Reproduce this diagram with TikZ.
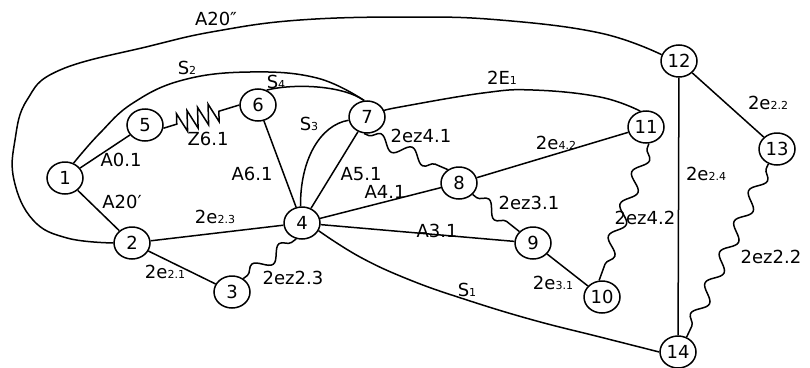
\documentclass[tikz,border=0pt]{standalone}
\usepackage{fontspec}
\setmainfont{DejaVu Sans}
\usetikzlibrary{shapes.geometric,decorations.pathmorphing}
\newcommand\sbx[1]{{\fontsize{11}{11}\selectfont #1}}
\begin{document}
\begin{tikzpicture}[x=1pt,y=-1pt,
  vtx/.style={draw, ellipse, minimum width=36pt, minimum height=32pt, inner sep=0pt, line width=1.5pt, font=\fontsize{18}{18}\selectfont},
  edge/.style={line width=1.5pt},
  wavy/.style={line width=1.5pt, decorate, decoration={snake, amplitude=6.5pt, segment length=34pt, pre length=5pt, post length=5pt}},
  lbl/.style={font=\fontsize{18}{18}\selectfont, inner sep=1pt}]
\useasboundingbox (0,0) rectangle (810,367);

% vertices
\node[vtx] (n1)  at (65,178)  {1};
\node[vtx] (n2)  at (132,243) {2};
\node[vtx] (n3)  at (232,292) {3};
\node[vtx] (n4)  at (302,223) {4};
\node[vtx] (n5)  at (145,125) {5};
\node[vtx] (n6)  at (258,105) {6};
\node[vtx] (n7)  at (367,117) {7};
\node[vtx] (n8)  at (459,183) {8};
\node[vtx] (n9)  at (533,243) {9};
\node[vtx] (n10) at (602,297) {10};
\node[vtx] (n11) at (646,127) {11};
\node[vtx] (n12) at (679,61)  {12};
\node[vtx] (n13) at (777,149) {13};
\node[vtx] (n14) at (678,352) {14};

% straight edges
\draw[edge] (n1) -- (n5);
\draw[edge] (n1) -- (n2);
\draw[edge] (n2) -- (n4);
\draw[edge] (n2) -- (n3);
\draw[edge] (n6) -- (n4);
\draw[edge] (n7) -- (n4);
\draw[edge] (n4) -- (n8);
\draw[edge] (n4) -- (n9);
\draw[edge] (n8) -- (n11);
\draw[edge] (n9) -- (n10);
\draw[edge] (n12) -- (n13);
\draw[edge] (n12) -- (n14);

% curved edges
\draw[edge] plot[smooth, tension=0.7] coordinates {(n2.west) (67,238) (33,220) (14,180) (15,140) (27,100) (60,70) (150,46) (217,31) (300,20) (410,17) (500,20) (600,33) (n12.160)};
\draw[edge] plot[smooth, tension=0.7] coordinates {(n1.60) (100,133) (133,103) (183,80) (250,72) (317,78) (n7.100)};
\draw[edge] (n6.60) .. controls (290,84) and (340,84) .. (n7.100);
\draw[edge] (n4.95) .. controls (300,160) and (320,125) .. (n7.190);
\draw[edge] plot[smooth, tension=0.7] coordinates {(n7.20) (400,107) (483,93) (533,90) (600,97) (n11.110)};
\draw[edge] plot[smooth, tension=0.7] coordinates {(n4.-25) (360,257) (410,280) (467,300) (533,320) (600,337) (n14.west)};

% wavy edges
\draw[edge, decorate, decoration={zigzag, amplitude=10pt, segment length=11pt, pre length=14pt, post length=20pt}] (n5.-10) -- (n6.west);
\draw[wavy] (n7.-100) -- (n8.130);
\draw[wavy] (n8.-40) -- (n9.140);
\draw[wavy] (n11.-80) -- (n10.100);
\draw[wavy] (n3.50) -- (n4.-110);
\draw[wavy] (n13.-120) -- (n14.60);

% labels
\node[lbl] (tA20b) at (216,19)  {A20″};
\node[lbl] (tS2)   at (187,68)  {S\sbx{2}};
\node[lbl] (tS4)   at (276,82)  {S\sbx{4}};
\node[lbl] (tZ61)  at (208,139) {Z6.1};
\node[lbl] (tA01)  at (121,160) {A0.1};
\node[lbl] (tA61)  at (252,174) {A6.1};
\node[lbl] (tS3)   at (309,124) {S\sbx{3}};
\node[lbl] (tA51)  at (361,174) {A5.1};
\node[lbl] (tA41)  at (385,192) {A4.1};
\node[lbl] (tz41)  at (421,136) {2ez4.1};
\node[lbl] (tA31)  at (437,231) {A3.1};
\node[lbl] (tz31)  at (529,203) {2ez3.1};
\node[lbl] (te42)  at (556,143) {2e\sbx{4.2}};
\node[lbl] (tE1)   at (502,78)  {2E\sbx{1}};
\node[lbl] (te22)  at (768,103) {2e\sbx{2.2}};
\node[lbl] (te24)  at (706,174) {2e\sbx{2.4}};
\node[lbl] (tz42)  at (645,218) {2ez4.2};
\node[lbl] (tz22)  at (771,257) {2ez2.2};
\node[lbl] (te31)  at (553,283) {2e\sbx{3.1}};
\node[lbl] (tS1)   at (467,290) {S\sbx{1}};
\node[lbl] (tA20a) at (122,202) {A20′};
\node[lbl] (te23)  at (215,217) {2e\sbx{2.3}};
\node[lbl] (te21)  at (165,272) {2e\sbx{2.1}};
\node[lbl] (tz23)  at (293,278) {2ez2.3};
\end{tikzpicture}
\end{document}
